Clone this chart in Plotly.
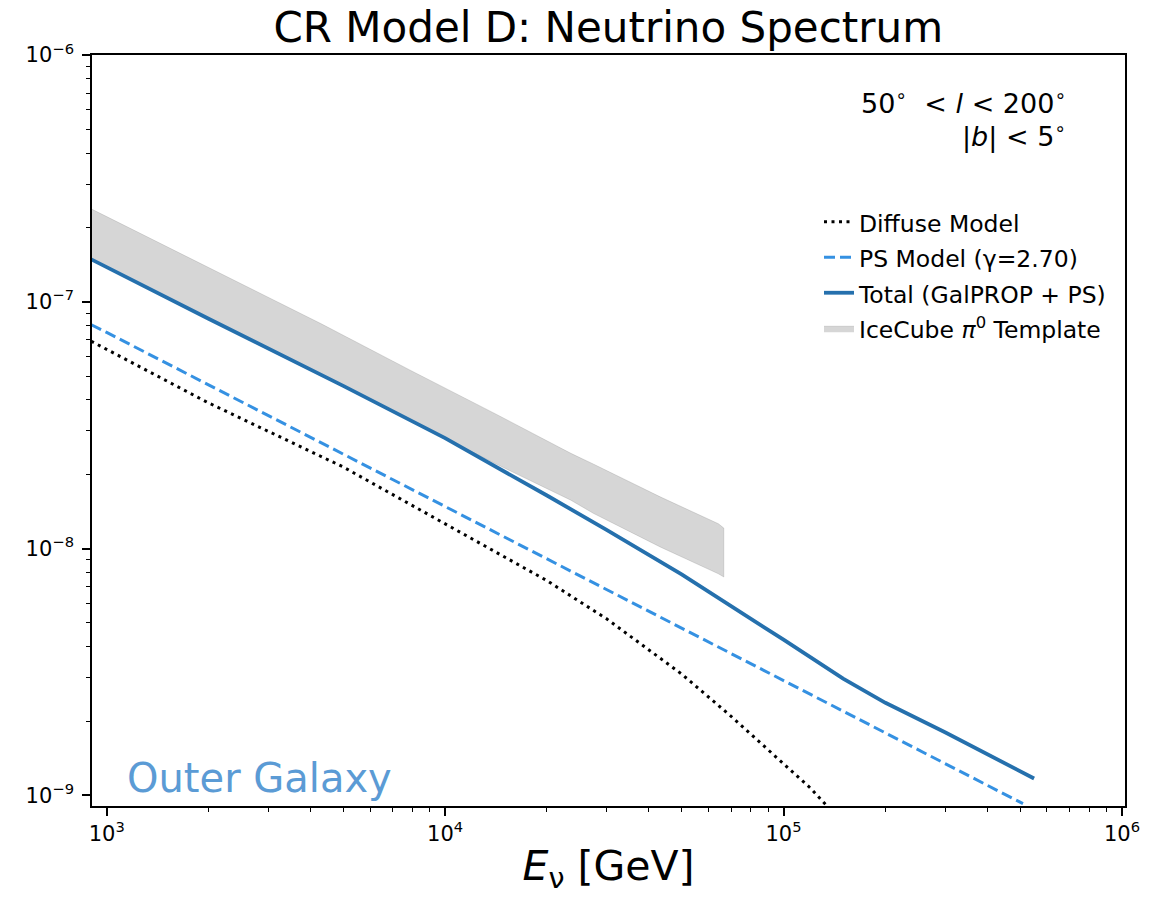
import plotly.graph_objects as go

# ---------------- data ----------------
diffuse_E = [900, 2e3, 5e3, 1e4, 2e4, 3e4, 5e4, 7e4, 1e5, 1.2e5, 1.35e5]
diffuse_F = [6.92e-8, 3.89e-8, 2.14e-8, 1.26e-8, 7.41e-9, 5.19e-9, 3.10e-9, 2.09e-9, 1.35e-9, 1.07e-9, 9.0e-10]

ps_E = [900, 1e3, 1e4, 1e5, 5.1e5]
ps_F = [8.07e-8, 7.51e-8, 1.48e-8, 2.92e-9, 9.25e-10]

total_E = [900, 2e3, 5e3, 1e4, 2e4, 3e4, 5e4, 7e4, 1e5, 1.5e5, 2e5, 3e5, 4e5, 5.5e5]
total_F = [1.486e-7, 8.53e-8, 4.56e-8, 2.80e-8, 1.64e-8, 1.19e-8, 7.85e-9, 5.86e-9,
           4.27e-9, 2.97e-9, 2.37e-9, 1.80e-9, 1.47e-9, 1.17e-9]

band_E = [905, 2268, 4291, 7886, 1.405e4, 2.353e4, 2.74e4, 4.32e4, 6.42e4, 6.66e4]
band_hi = [2.37e-7, 1.26e-7, 8.16e-8, 5.28e-8, 3.52e-8, 2.43e-8, 2.20e-8, 1.62e-8, 1.26e-8, 1.21e-8]
band_lo = [1.49e-7, 7.86e-8, 5.06e-8, 3.31e-8, 2.21e-8, 1.57e-8, 1.39e-8, 1.015e-8, 7.9e-9, 7.67e-9]

x_tickvals = [1e3, 1e4, 1e5, 1e6]
x_ticktext = ["10<sup>3</sup>", "10<sup>4</sup>", "10<sup>5</sup>", "10<sup>6</sup>"]
y_tickvals = [1e-9, 1e-8, 1e-7, 1e-6]
y_ticktext = ["10<sup>\u22129</sup>", "10<sup>\u22128</sup>", "10<sup>\u22127</sup>", "10<sup>\u22126</sup>"]
minor_digits = [2, 3, 4, 5, 6, 7, 8, 9]

x_minor = [d * 10 ** e for e in (2, 3, 4, 5) for d in minor_digits]
y_minor = [d * 10.0 ** e for e in (-10, -9, -8, -7) for d in minor_digits]

FONT = "DejaVu Sans"


def lname(s):
    return f"<span style='font-size:23.5px'>{s}</span>"


fig = go.Figure()

# IceCube band (drawn first, underneath the lines)
fig.add_trace(go.Scatter(
    x=band_E + band_E[::-1],
    y=band_hi + band_lo[::-1],
    fill="toself",
    fillcolor="rgba(128,128,128,0.32)",
    line=dict(color="rgba(128,128,128,0.25)", width=1),
    mode="lines",
    name=lname("IceCube <i>\u03c0</i><sup>0</sup> Template"),
    legendrank=4,
    hoverinfo="skip",
))

fig.add_trace(go.Scatter(
    x=diffuse_E, y=diffuse_F, mode="lines",
    line=dict(color="black", width=3, dash="3px,4.5px"),
    name=lname("Diffuse Model"), legendrank=1,
))
fig.add_trace(go.Scatter(
    x=ps_E, y=ps_F, mode="lines",
    line=dict(color="#3591e2", width=3, dash="11px,5px"),
    name=lname("PS Model (\u03b3=2.70)"), legendrank=2,
))
fig.add_trace(go.Scatter(
    x=total_E, y=total_F, mode="lines",
    line=dict(color="#2570ad", width=3.8),
    name=lname("Total (GalPROP + PS)"), legendrank=3,
))

axis_common = dict(
    type="log",
    showline=True, linecolor="black", linewidth=1.6, mirror=True,
    ticks="outside", ticklen=8, tickwidth=1.5, tickcolor="black",
    showgrid=False, zeroline=False,
    tickfont=dict(family=FONT, size=21, color="black"),
)

fig.update_layout(
    width=1152, height=897,
    margin=dict(l=92, r=27, t=55, b=91),
    paper_bgcolor="white", plot_bgcolor="white",
    font=dict(family=FONT, color="black"),
    title=dict(
        text="CR Model D: Neutrino Spectrum",
        font=dict(family=FONT, size=42, color="black"),
        x=0.528, xanchor="center", xref="container",
        y=1 - 27 / 897, yanchor="middle", yref="container",
    ),
    xaxis=dict(
        axis_common,
        range=[2.9566, 6.009],
        tickvals=x_tickvals, ticktext=x_ticktext,
        minor=dict(tickmode="array", tickvals=x_minor, ticks="outside", ticklen=4.5,
                   tickwidth=1.2, tickcolor="black", showgrid=False),
        title=dict(text="<i>E</i><sub>\u03bd</sub> [GeV]", font=dict(family=FONT, size=41), standoff=6),
    ),
    yaxis=dict(
        axis_common,
        range=[-9.0434, -6.0],
        tickvals=y_tickvals, ticktext=y_ticktext,
        minor=dict(tickmode="array", tickvals=y_minor, ticks="outside", ticklen=4.5,
                   tickwidth=1.2, tickcolor="black", showgrid=False),
        ticklabelstandoff=4,
    ),
    legend=dict(
        font=dict(family=FONT, size=25, color="black"),
        bgcolor="rgba(0,0,0,0)", borderwidth=0,
        tracegroupgap=0,
    ),
    showlegend=True,
)

# place legend / texts in pixel-like paper coordinates
px0, px1 = 92, 1125
py0, py1 = 55, 806
fig.update_layout(legend=dict(
    x=(819 - px0) / (px1 - px0), xanchor="left",
    y=1 - (199 - py0) / (py1 - py0), yanchor="top",
))

fig.add_annotation(
    x=(1068 - px0) / (px1 - px0), y=1 - (101 - py0) / (py1 - py0),
    xref="paper", yref="paper", xanchor="right", yanchor="middle",
    text="50<sup>\u2218</sup>  < <i>l</i> < 200<sup>\u2218</sup>",
    showarrow=False, font=dict(family=FONT, size=27, color="black"),
)
fig.add_annotation(
    x=(1068 - px0) / (px1 - px0), y=1 - (135 - py0) / (py1 - py0),
    xref="paper", yref="paper", xanchor="right", yanchor="middle",
    text="|<i>b</i>| < 5<sup>\u2218</sup>",
    showarrow=False, font=dict(family=FONT, size=27, color="black"),
)
fig.add_annotation(
    x=(259 - px0) / (px1 - px0), y=1 - (778 - py0) / (py1 - py0),
    xref="paper", yref="paper", xanchor="center", yanchor="middle",
    text="Outer Galaxy",
    showarrow=False, font=dict(family=FONT, size=40, color="#5b9bd5"),
)

fig.write_html("out.html")
